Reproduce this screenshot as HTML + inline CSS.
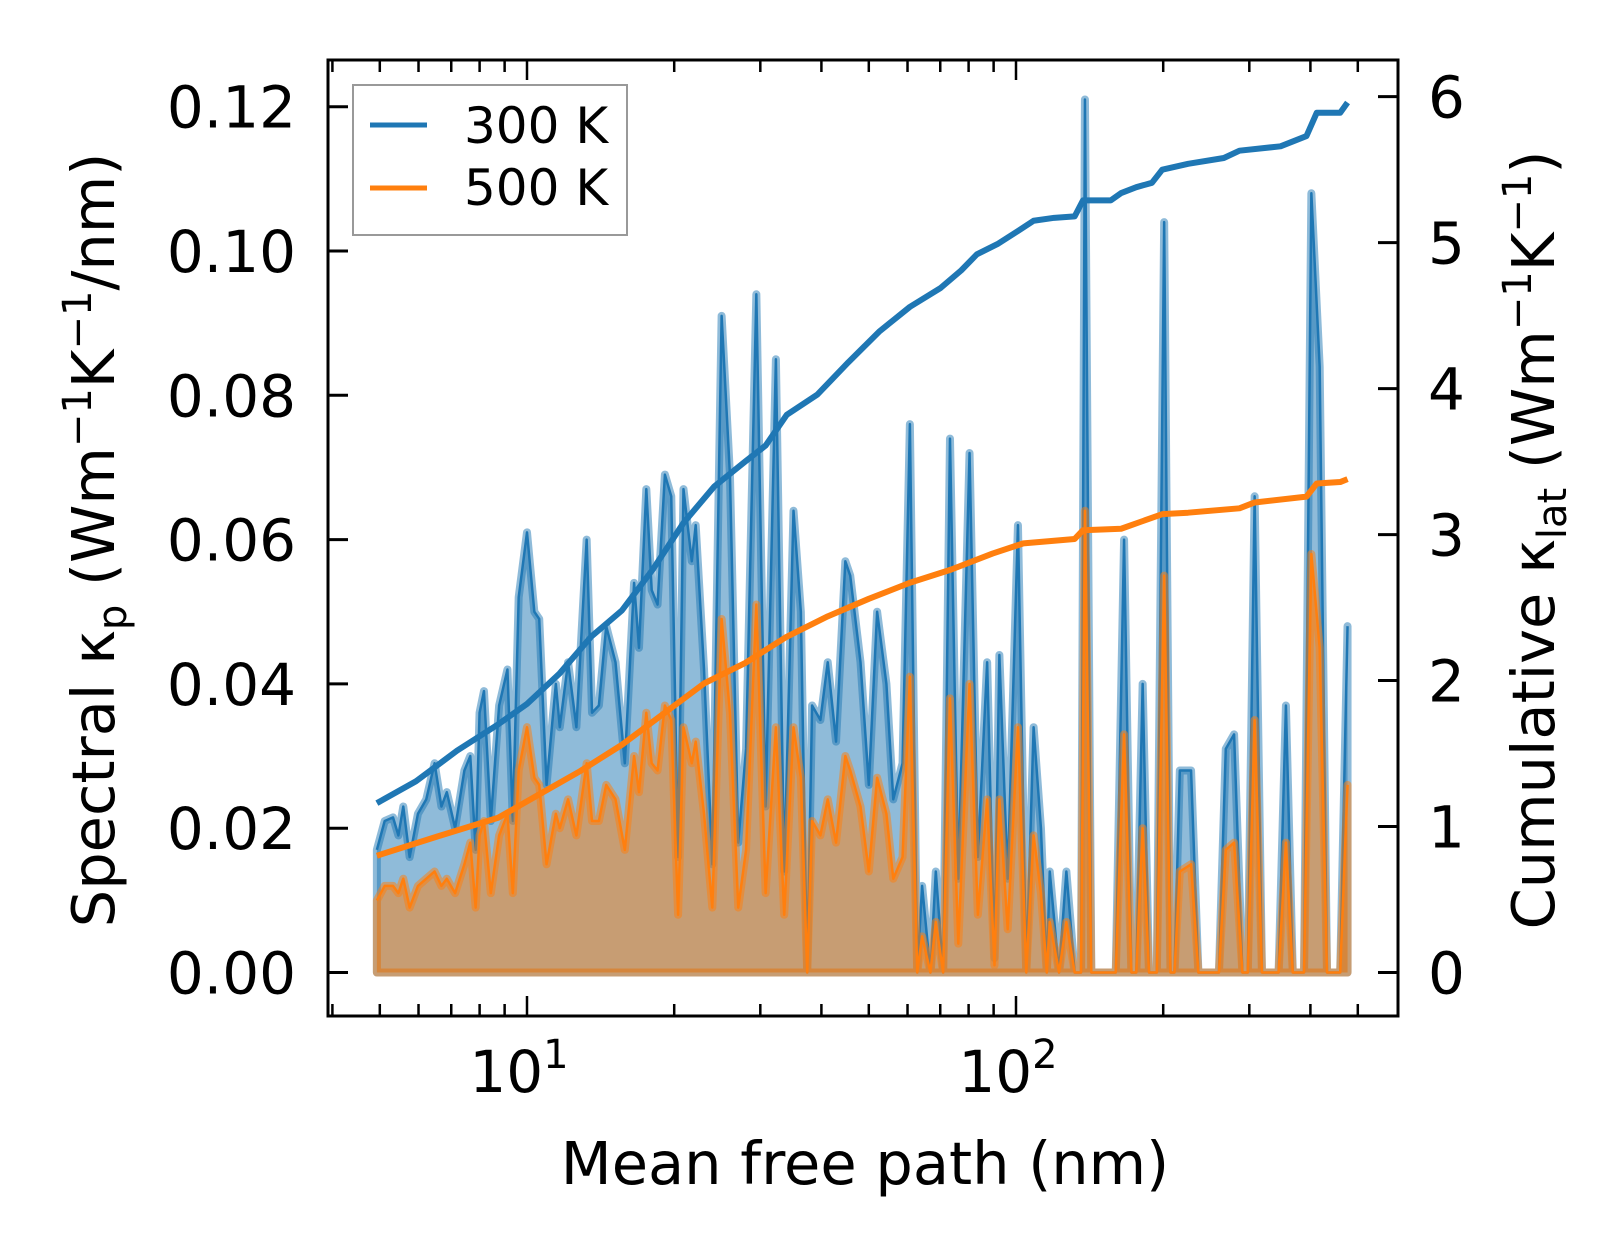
<!DOCTYPE html>
<html><head><meta charset="utf-8"><style>
html,body{margin:0;padding:0;background:#fff;}
svg{display:block;font-family:"DejaVu Sans","Liberation Sans",sans-serif;}
</style></head><body>
<svg id="chart" width="1623" height="1254" viewBox="0 0 1623 1254" xmlns="http://www.w3.org/2000/svg">
<defs><clipPath id="clip"><rect x="328" y="60" width="1070" height="956"/></clipPath></defs>
<g id="plot" clip-path="url(#clip)"></g>
<g id="axes"></g>
<g>
  <rect x="353" y="85" width="274" height="150" fill="#fff" stroke="#999" stroke-width="2"/>
  <line x1="370" y1="125" x2="427" y2="125" stroke="#1f77b4" stroke-width="5"/>
  <text x="464" y="143" font-size="50">300 K</text>
  <line x1="370" y1="188" x2="427" y2="188" stroke="#ff7f0e" stroke-width="5"/>
  <text x="464" y="205" font-size="50">500 K</text>
</g>
<text transform="translate(114,540) rotate(-90)" text-anchor="middle" font-size="59">Spectral κ<tspan font-size="40" dy="12">p</tspan><tspan dy="-12"> (Wm</tspan><tspan font-size="40" dy="-23">−1</tspan><tspan dy="23">K</tspan><tspan font-size="40" dy="-23">−1</tspan><tspan dy="23">/nm)</tspan></text>
<text transform="translate(1554,540) rotate(-90)" text-anchor="middle" font-size="59">Cumulative κ<tspan font-size="40" dy="12">lat</tspan><tspan dy="-12"> (Wm</tspan><tspan font-size="40" dy="-23">−1</tspan><tspan dy="23">K</tspan><tspan font-size="40" dy="-23">−1</tspan><tspan dy="23">)</tspan></text>
<text x="865" y="1184" text-anchor="middle" font-size="59">Mean free path (nm)</text>
</svg>
<script>
// log10 of mean free path (nm) for spectral samples
const specLogMfp = [0.693,0.709,0.726,0.737,0.747,0.760,0.777,0.794,0.811,0.825,0.836,0.853,0.872,0.884,0.895,0.903,0.912,0.926,0.943,0.960,0.971,0.983,1.000,1.015,1.025,1.040,1.059,1.067,1.084,1.101,1.122,1.133,1.147,1.162,1.181,1.200,1.219,1.229,1.244,1.255,1.267,1.282,1.295,1.309,1.320,1.337,1.345,1.362,1.379,1.398,1.415,1.432,1.448,1.469,1.488,1.509,1.526,1.545,1.560,1.573,1.583,1.600,1.615,1.632,1.651,1.661,1.682,1.699,1.716,1.735,1.749,1.768,1.783,1.798,1.808,1.825,1.836,1.851,1.865,1.882,1.905,1.922,1.941,1.956,1.966,1.983,2.004,2.021,2.036,2.051,2.063,2.069,2.088,2.103,2.120,2.133,2.141,2.154,2.204,2.221,2.236,2.246,2.259,2.272,2.288,2.303,2.316,2.324,2.335,2.358,2.373,2.415,2.429,2.446,2.463,2.474,2.488,2.503,2.537,2.552,2.566,2.589,2.604,2.621,2.636,2.663,2.678];
const spec300 = [0.017,0.021,0.0215,0.019,0.023,0.016,0.022,0.024,0.029,0.023,0.025,0.020,0.028,0.030,0.017,0.036,0.039,0.021,0.037,0.042,0.021,0.052,0.061,0.050,0.049,0.026,0.040,0.034,0.043,0.034,0.060,0.036,0.037,0.048,0.043,0.029,0.054,0.045,0.067,0.053,0.051,0.069,0.066,0.016,0.067,0.057,0.062,0.042,0.015,0.091,0.069,0.018,0.031,0.094,0.023,0.085,0.014,0.064,0.050,0,0.037,0.035,0.043,0.032,0.057,0.055,0.043,0.026,0.050,0.040,0.024,0.029,0.076,0,0.012,0,0.014,0,0.074,0.013,0.072,0.016,0.043,0.002,0.044,0.013,0.062,0,0.034,0.020,0,0.014,0,0.014,0,0,0.121,0,0,0.060,0,0,0.040,0,0,0.104,0,0,0.028,0.028,0,0,0.031,0.033,0,0,0.066,0,0,0.037,0,0,0.108,0.084,0,0,0.048];
const spec500 = [0.010,0.012,0.012,0.011,0.013,0.009,0.012,0.013,0.014,0.012,0.013,0.011,0.015,0.018,0.009,0.019,0.021,0.011,0.019,0.022,0.011,0.028,0.034,0.027,0.026,0.015,0.022,0.020,0.024,0.019,0.029,0.021,0.021,0.026,0.024,0.017,0.030,0.025,0.036,0.029,0.028,0.037,0.035,0.008,0.034,0.029,0.032,0.022,0.009,0.049,0.036,0.009,0.017,0.051,0.011,0.034,0.008,0.034,0.027,0,0.021,0.019,0.024,0.018,0.030,0.028,0.023,0.014,0.027,0.022,0.013,0.016,0.041,0,0.005,0,0.007,0,0.038,0.004,0.040,0.008,0.024,0.001,0.024,0.006,0.034,0,0.019,0.011,0,0.007,0,0.007,0,0,0.064,0,0,0.033,0,0,0.020,0,0,0.055,0,0,0.014,0.015,0,0,0.017,0.018,0,0,0.035,0,0,0.018,0,0,0.058,0.045,0,0,0.026];
// cumulative kappa
const cum300LogMfp = [0.693,0.773,0.857,0.941,1.000,1.067,1.131,1.194,1.257,1.320,1.383,1.446,1.488,1.531,1.594,1.657,1.720,1.783,1.846,1.888,1.920,1.962,2.004,2.036,2.078,2.120,2.137,2.194,2.215,2.246,2.278,2.299,2.352,2.425,2.457,2.541,2.594,2.615,2.663,2.678];
const cum300 = [1.16,1.31,1.52,1.70,1.84,2.05,2.30,2.48,2.76,3.08,3.33,3.50,3.61,3.82,3.96,4.18,4.39,4.56,4.69,4.81,4.92,4.99,5.08,5.15,5.17,5.18,5.29,5.29,5.34,5.38,5.41,5.50,5.54,5.58,5.63,5.66,5.73,5.89,5.89,5.96];
const cum500LogMfp = [0.693,0.815,0.941,1.025,1.109,1.194,1.278,1.362,1.446,1.531,1.615,1.699,1.783,1.867,1.952,2.015,2.120,2.137,2.215,2.299,2.352,2.457,2.488,2.594,2.615,2.663,2.678];
const cum500 = [0.80,0.93,1.06,1.22,1.38,1.56,1.77,1.98,2.12,2.30,2.44,2.56,2.67,2.76,2.87,2.94,2.97,3.03,3.04,3.14,3.15,3.18,3.22,3.26,3.35,3.36,3.38];
const leftTicks = [0,0.02,0.04,0.06,0.08,0.10,0.12];
const leftTickLabels = ["0.00","0.02","0.04","0.06","0.08","0.10","0.12"];
const rightTicks = [0,1,2,3,4,5,6];
const xMajor = [1,2];

const NS="http://www.w3.org/2000/svg";
const X0=328,X1=1398,Y0=60,Y1=1016;
const xs=l=>527+(l-1)*489;
const yL=v=>972.5-v*7215;
const yR=v=>972.5-v*145.97;
function mk(tag,attrs,parent){const e=document.createElementNS(NS,tag);for(const k in attrs)e.setAttribute(k,attrs[k]);parent.appendChild(e);return e;}
const plot=document.getElementById('plot'),axes=document.getElementById('axes');

function area(lx,vals,color,name){
  let d=`M${xs(lx[0])},${yL(0)}`;
  lx.forEach((l,i)=>{d+=` L${xs(l)},${yL(vals[i])}`;});
  d+=` L${xs(lx[lx.length-1])},${yL(0)} Z`;
  const f=mk('path',{d:d,fill:color,'fill-opacity':0.5,stroke:color,'stroke-opacity':0.5,'stroke-width':8,'stroke-linejoin':'round'},plot);
  
  
  const pts=lx.map((l,i)=>xs(l)+','+yL(vals[i])).join(' ');
  const ln=mk('polyline',{points:pts,fill:'none',stroke:color,'stroke-width':2.5,'stroke-linejoin':'round'},plot);
  
  
}
area(specLogMfp,spec300,'#1f77b4','spectral-300k');
area(specLogMfp,spec500,'#ff7f0e','spectral-500k');
function cum(lx,vals,color,name){
  const pts=lx.map((l,i)=>xs(l)+','+yR(vals[i])).join(' ');
  const ln=mk('polyline',{points:pts,fill:'none',stroke:color,'stroke-width':6,'stroke-linejoin':'round'},plot);
  
  
}
cum(cum300LogMfp,cum300,'#1f77b4','cumulative-300k');
cum(cum500LogMfp,cum500,'#ff7f0e','cumulative-500k');

const sp=mk('rect',{x:X0,y:Y0,width:X1-X0,height:Y1-Y0,fill:'none',stroke:'#000','stroke-width':3},axes);


leftTicks.forEach((v,i)=>{
  const y=yL(v);
  mk('line',{x1:X0,y1:y,x2:X0+20,y2:y,stroke:'#000','stroke-width':3},axes);
  const t=mk('text',{x:296,y:y+21,'text-anchor':'end','font-size':58},axes);
  t.textContent=leftTickLabels[i];
  
  
});
rightTicks.forEach(v=>{
  const y=yR(v);
  mk('line',{x1:X1-20,y1:y,x2:X1,y2:y,stroke:'#000','stroke-width':3},axes);
  const t=mk('text',{x:1428,y:y+21,'font-size':58},axes);
  t.textContent=String(v);
  
  
});
for(let dec=0;dec<=2;dec++){
  for(let m=1;m<=9;m++){
    const l=dec+Math.log10(m);
    const x=xs(l);
    if(x<X0+2||x>X1-2)continue;
    const len=m===1?20:12;
    mk('line',{x1:x,y1:Y1,x2:x,y2:Y1-len,stroke:'#000','stroke-width':2.5},axes);
    mk('line',{x1:x,y1:Y0,x2:x,y2:Y0+len,stroke:'#000','stroke-width':2.5},axes);
  }
}
xMajor.forEach(p=>{
  const t=mk('text',{x:xs(p)-8,y:1092,'text-anchor':'middle','font-size':58},axes);
  t.textContent='10';
  
  
  const s=mk('tspan',{'font-size':40,dy:-24},t);
  s.textContent=String(p);
});
</script>
</body></html>
